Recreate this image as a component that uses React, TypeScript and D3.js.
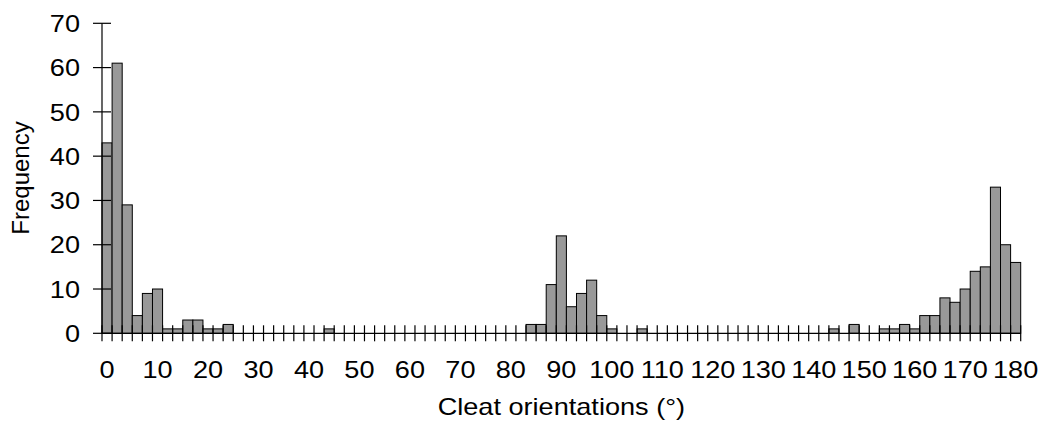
import React from "react";
import * as d3 from "d3";

// Histogram of cleat orientations, 2° bins from 0° to 180°
const binStarts: number[] = d3.range(0, 182, 2);
const frequencies: number[] = [
  43, 61, 29, 4, 9, 10, 1, 1, 3, 3, 1, 1, 2,
  0, 0, 0, 0, 0, 0, 0, 0, 0,
  1,
  0, 0, 0, 0, 0, 0, 0, 0, 0, 0, 0, 0, 0, 0, 0, 0, 0, 0, 0,
  2, 2, 11, 22, 6, 9, 12, 4, 1, 0, 0, 1,
  0, 0, 0, 0, 0, 0, 0, 0, 0, 0, 0, 0, 0, 0, 0, 0, 0, 0,
  1, 0, 2, 0, 0, 1, 1, 2, 1, 4, 4, 8, 7, 10, 14, 15, 33, 20, 16,
];
const yTicks: number[] = [0, 10, 20, 30, 40, 50, 60, 70];
const xLabelEvery = 5;
const xTitle = "Cleat orientations (°)";
const yTitle = "Frequency";

const W = 1045;
const H = 426;
const plot = { left: 102, right: 1020.7, top: 23.3, bottom: 333.3 };
const FONT = "'Liberation Sans', Arial, Helvetica, sans-serif";
const stretch = 1.13;
const fontSize = 24;

export default function App() {
  const x = d3
    .scaleBand<number>()
    .domain(binStarts)
    .range([plot.left, plot.right])
    .padding(0);
  const y = d3.scaleLinear().domain([0, 70]).range([plot.bottom, plot.top]);
  const bw = x.bandwidth();

  const boundaries = binStarts.map((b) => x(b) as number);
  boundaries.push((x(binStarts[binStarts.length - 1]) as number) + bw);

  return (
    <svg
      width={W}
      height={H}
      style={{ position: "absolute", left: 0, top: 0, background: "#fff" }}
      fontFamily={FONT}
    >
      <rect x={0} y={0} width={W} height={H} fill="#fff" />
      {/* bars */}
      {frequencies.map((f, i) =>
        f > 0 ? (
          <rect
            key={i}
            x={x(binStarts[i]) as number}
            y={y(f)}
            width={bw}
            height={y(0) - y(f)}
            fill="#999999"
            stroke="#000"
            strokeWidth={1}
          />
        ) : null
      )}
      {/* y axis */}
      <line x1={plot.left} x2={plot.left} y1={y(70)} y2={y(0)} stroke="#000" strokeWidth={1.2} />
      {yTicks.map((t) => (
        <g key={t}>
          <line x1={plot.left - 9} x2={plot.left + 9} y1={y(t)} y2={y(t)} stroke="#000" strokeWidth={1.2} />
          <text
            transform={`translate(80,${y(t)}) scale(${stretch},1)`}
            textAnchor="end"
            dy="0.36em"
            fontSize={fontSize}
            fill="#000"
          >
            {t}
          </text>
        </g>
      ))}
      {/* x axis */}
      <line x1={plot.left} x2={plot.right} y1={y(0)} y2={y(0)} stroke="#000" strokeWidth={1.2} />
      {boundaries.map((bx, i) => (
        <line key={i} x1={bx} x2={bx} y1={y(0) - 8} y2={y(0) + 8} stroke="#000" strokeWidth={1.2} />
      ))}
      {binStarts.map((b, i) =>
        i % xLabelEvery === 0 ? (
          <text
            key={b}
            transform={`translate(${(x(b) as number) + bw / 2},377.5) scale(${stretch},1)`}
            textAnchor="middle"
            fontSize={fontSize}
            fill="#000"
          >
            {b}
          </text>
        ) : null
      )}
      {/* axis titles */}
      <text
        transform={`translate(${(plot.left + plot.right) / 2},415) scale(${stretch},1)`}
        textAnchor="middle"
        fontSize={fontSize}
        fill="#000"
      >
        {xTitle}
      </text>
      <text
        transform={`translate(28.5,178) rotate(-90)`}
        textAnchor="middle"
        fontSize={24}
        fill="#000"
      >
        {yTitle}
      </text>
    </svg>
  );
}
